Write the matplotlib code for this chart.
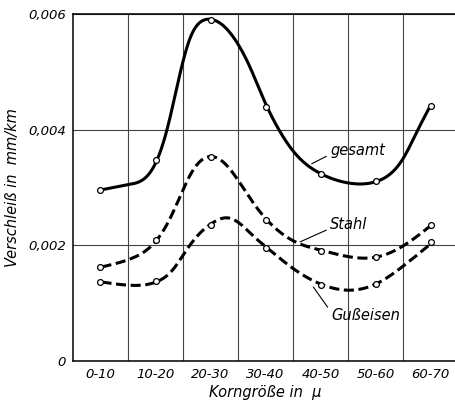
import numpy as np
import matplotlib
matplotlib.use("Agg")
import matplotlib.pyplot as plt

plt.rcParams['font.family'] = ['Liberation Sans Narrow', 'DejaVu Sans']

categories = ["0-10", "10-20", "20-30", "30-40", "40-50", "50-60", "60-70"]
# measured points
gesamt_pts = [0.00296, 0.00348, 0.00590, 0.00440, 0.00324, 0.00311, 0.00441]
stahl_pts = [0.00163, 0.00210, 0.00353, 0.00243, 0.00191, 0.00180, 0.00236]
guss_pts = [0.00137, 0.00138, 0.00236, 0.00196, 0.00132, 0.00134, 0.00205]

# smoothed (hand-drawn) curves
gesamt_curve_x = [0.018, 0.515, 1.031, 1.224, 1.455, 1.636, 1.818, 2.0, 2.242, 2.485,
                  2.697, 3.0, 3.242, 3.515, 4.018, 4.545, 5.018, 5.515, 5.758, 6.0]
gesamt_curve_y = [0.00296, 0.003064, 0.003478, 0.004012, 0.005017, 0.00565, 0.00585,
                  0.005897, 0.005793, 0.005505, 0.005133, 0.004440, 0.004012,
                  0.003609, 0.003236, 0.003074, 0.003109, 0.003495, 0.00400, 0.004414]
stahl_curve_x = [0.018, 0.545, 1.031, 1.273, 1.515, 1.636, 1.818, 2.013, 2.242, 2.485,
                 2.787, 3.031, 3.545, 4.031, 4.545, 5.031, 5.515, 6.031]
stahl_curve_y = [0.001626, 0.001771, 0.002098, 0.00246, 0.002978, 0.003236, 0.003466,
                 0.003534, 0.003436, 0.00315, 0.002719, 0.002431, 0.002057, 0.001914,
                 0.001798, 0.001798, 0.00200, 0.002362]
guss_curve_x = [0.018, 0.545, 1.031, 1.303, 1.576, 1.818, 2.013, 2.303, 2.545, 2.787,
                3.031, 3.545, 4.031, 4.545, 5.031, 5.515, 6.031]
guss_curve_y = [0.001367, 0.00131, 0.001379, 0.00154, 0.001943, 0.002229, 0.002362,
                0.002488, 0.002374, 0.002143, 0.001957, 0.001569, 0.001322, 0.001224,
                0.00134, 0.001655, 0.002047]

yticks = [0, 0.002, 0.004, 0.006]
ytick_labels = ["0", "0,002", "0,004", "0,006"]


def smooth_curve(cx, cy, lam, n=601):
    """Penalised (smoothing-spline like) curve through traced points."""
    cx = np.asarray(cx, float)
    cy = np.asarray(cy, float) * 1000.0
    xs = np.linspace(cx[0], cx[-1], n)
    w = np.zeros(n)
    t = np.zeros(n)
    for xi, yi in zip(cx, cy):
        j = int(np.argmin(np.abs(xs - xi)))
        w[j] += 1.0
        t[j] += yi
    D = np.diff(np.eye(n), 2, axis=0)
    z = np.linalg.solve(np.diag(w) + lam * D.T @ D, t)
    return xs, z / 1000.0


def draw_curve(ax, cx, cy, lam, **kw):
    xs, ys = smooth_curve(cx, cy, lam)
    ax.plot(xs, ys, color='black', zorder=3, **kw)


fig = plt.figure(figsize=(4.56, 4.03), dpi=100)
ax = fig.add_axes([73 / 456, 42 / 403, 385 / 456, 347 / 403])

xpos = np.arange(len(categories))

lw = 2.2
draw_curve(ax, gesamt_curve_x, gesamt_curve_y, 800, lw=lw, solid_capstyle='round')
draw_curve(ax, stahl_curve_x, stahl_curve_y, 800, lw=lw, dashes=(3.3, 1.5))
draw_curve(ax, guss_curve_x, guss_curve_y, 800, lw=lw, dashes=(3.3, 1.5))

for pts in (gesamt_pts, stahl_pts, guss_pts):
    ax.plot(xpos, pts, linestyle='none', marker='o', markersize=4.2,
            markerfacecolor='white', markeredgecolor='black', markeredgewidth=0.9,
            zorder=4)

ax.set_xlim(-0.5, 6.5)
ax.set_ylim(0, 0.006)
ax.set_xticks(xpos)
ax.set_xticklabels(categories, style='italic', fontsize=9.5)
ax.set_yticks(yticks)
ax.set_yticklabels(ytick_labels, style='italic', fontsize=9.5)
ax.tick_params(length=0, pad=5)

ax.set_xticks(np.arange(0.5, 7, 1), minor=True)
ax.tick_params(which='minor', length=0)
ax.grid(which='minor', axis='x', color='#444444', lw=0.8)
ax.grid(which='major', axis='y', color='#444444', lw=0.8)
ax.grid(which='major', axis='x', visible=False)

for s in ('left', 'bottom', 'top'):
    ax.spines[s].set_linewidth(1.1)
ax.spines['right'].set_visible(False)

ax.set_xlabel("Korngröße in  μ", style='italic', fontsize=10.5, labelpad=3)
ax.set_ylabel("Verschleiß in  mm/km", style='italic', fontsize=10.5, labelpad=6)

lab_kw = dict(style='italic', fontsize=10.5, ha='left', va='center',
              arrowprops=dict(arrowstyle='-', color='black', lw=0.8,
                              shrinkA=1, shrinkB=0, relpos=(0, 0.25)))
ax.annotate("gesamt", xy=(3.84, 0.00341), xytext=(4.18, 0.00364), **lab_kw)
ax.annotate("Stahl", xy=(3.63, 0.00206), xytext=(4.18, 0.00236), **lab_kw)
lab_kw['arrowprops']['relpos'] = (0, 0.7)
ax.annotate("Gußeisen", xy=(3.87, 0.00128), xytext=(4.195, 0.00079), **lab_kw)

fig.savefig("out.png", dpi=100)
